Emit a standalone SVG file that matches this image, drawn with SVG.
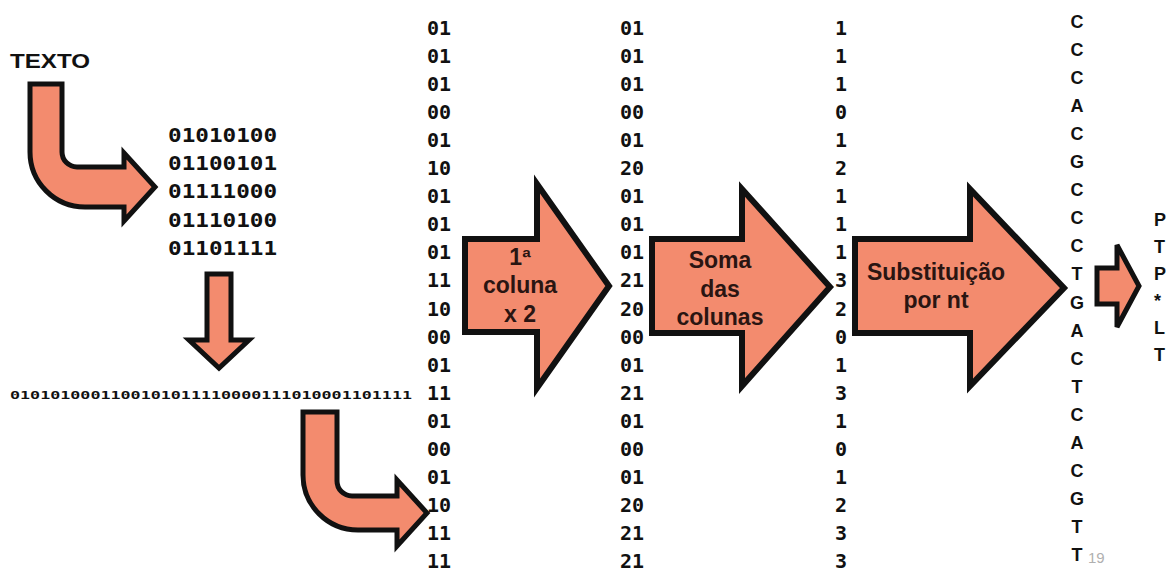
<svg xmlns="http://www.w3.org/2000/svg" width="1168" height="572" viewBox="0 0 1168 572">
<style>
.bg{fill:#ffffff}
.mono{font-family:"DejaVu Sans Mono","Liberation Mono",monospace;font-weight:bold;fill:#111111}
.col{font-size:20px}
.sans{font-family:"Liberation Sans",Arial,sans-serif;font-weight:bold;fill:#111111}
.lbl{font-family:"Liberation Sans",Arial,sans-serif;font-weight:bold;font-size:23px;fill:#2a1512;text-anchor:middle}
.arr{fill:#F38B6E;stroke:#111111;stroke-width:5;stroke-linejoin:miter}
.big{stroke-width:6}
.nt{font-size:18px;text-anchor:middle}
.pp{font-size:18px}
.pg{font-family:"Liberation Sans",Arial,sans-serif;font-size:15px;fill:#b0b0b0}
</style>
<rect class="bg" x="0" y="0" width="1168" height="572"/>

<g id="connectors">
  <path class="arr" d="M 30 84 L 62 84 L 62 152 A 15 15 0 0 0 77 167 L 124 167 L 124 153 L 155 187 L 124 221 L 124 207 L 85 207 A 55 55 0 0 1 30 152 Z"/>
  <path class="arr" d="M 207 274 L 231 274 L 231 340 L 249 340 L 219 368 L 189 340 L 207 340 Z"/>
  <path class="arr" d="M 303 412 L 337 412 L 337 481 A 15 15 0 0 0 352 496 L 397 496 L 397 480 L 427 513 L 397 546 L 397 530 L 358 530 A 55 55 0 0 1 303 475 Z"/>
</g>

<g id="texto">
  <text class="sans" x="10" y="68" font-size="21" textLength="80" lengthAdjust="spacingAndGlyphs">TEXTO</text>
</g>

<g id="bytes" class="mono col">
  <text x="168" y="142" textLength="109" lengthAdjust="spacingAndGlyphs">01010100</text>
  <text x="168" y="170" textLength="109" lengthAdjust="spacingAndGlyphs">01100101</text>
  <text x="168" y="198" textLength="109" lengthAdjust="spacingAndGlyphs">01111000</text>
  <text x="168" y="227" textLength="109" lengthAdjust="spacingAndGlyphs">01110100</text>
  <text x="168" y="255" textLength="109" lengthAdjust="spacingAndGlyphs">01101111</text>
</g>

<g id="bitstring">
  <text class="mono" x="10" y="399" font-size="11" textLength="402" lengthAdjust="spacingAndGlyphs">0101010001100101011110000111010001101111</text>
</g>

<g id="col-pairs" class="mono col">
  <text x="427" y="35">01</text><text x="427" y="63">01</text><text x="427" y="91">01</text><text x="427" y="119">00</text><text x="427" y="147">01</text>
  <text x="427" y="175">10</text><text x="427" y="203">01</text><text x="427" y="231">01</text><text x="427" y="259">01</text><text x="427" y="287">11</text>
  <text x="427" y="316">10</text><text x="427" y="344">00</text><text x="427" y="372">01</text><text x="427" y="400">11</text><text x="427" y="428">01</text>
  <text x="427" y="456">00</text><text x="427" y="484">01</text><text x="427" y="512">10</text><text x="427" y="540">11</text><text x="427" y="568">11</text>
</g>

<g id="col-doubled" class="mono col">
  <text x="620" y="35">01</text><text x="620" y="63">01</text><text x="620" y="91">01</text><text x="620" y="119">00</text><text x="620" y="147">01</text>
  <text x="620" y="175">20</text><text x="620" y="203">01</text><text x="620" y="231">01</text><text x="620" y="259">01</text><text x="620" y="287">21</text>
  <text x="620" y="316">20</text><text x="620" y="344">00</text><text x="620" y="372">01</text><text x="620" y="400">21</text><text x="620" y="428">01</text>
  <text x="620" y="456">00</text><text x="620" y="484">01</text><text x="620" y="512">20</text><text x="620" y="540">21</text><text x="620" y="568">21</text>
</g>

<g id="col-sum" class="mono col">
  <text x="835" y="35">1</text><text x="835" y="63">1</text><text x="835" y="91">1</text><text x="835" y="119">0</text><text x="835" y="147">1</text>
  <text x="835" y="175">2</text><text x="835" y="203">1</text><text x="835" y="231">1</text><text x="835" y="259">1</text><text x="835" y="287">3</text>
  <text x="835" y="316">2</text><text x="835" y="344">0</text><text x="835" y="372">1</text><text x="835" y="400">3</text><text x="835" y="428">1</text>
  <text x="835" y="456">0</text><text x="835" y="484">1</text><text x="835" y="512">2</text><text x="835" y="540">3</text><text x="835" y="568">3</text>
</g>

<g id="op-col2">
  <path class="arr big" d="M 465 239 L 537 239 L 537 184 L 609 286 L 537 388 L 537 332 L 465 332 Z"/>
  <text class="lbl" x="520" y="265">1ª</text>
  <text class="lbl" x="520" y="293">coluna</text>
  <text class="lbl" x="520" y="322">x 2</text>
</g>

<g id="op-sum">
  <path class="arr big" d="M 652 239 L 742 239 L 742 189 L 830 287 L 742 386 L 742 333 L 652 333 Z"/>
  <text class="lbl" x="720" y="268">Soma</text>
  <text class="lbl" x="720" y="297">das</text>
  <text class="lbl" x="720" y="325">colunas</text>
</g>

<g id="op-subst">
  <path class="arr big" d="M 855 239 L 970 239 L 970 189 L 1064 288 L 970 386 L 970 333 L 855 333 Z"/>
  <text class="lbl" x="936" y="280">Substituição</text>
  <text class="lbl" x="936" y="308">por nt</text>
</g>

<g id="op-translate">
  <path class="arr" d="M 1097 268 L 1117 268 L 1117 245 L 1139 286 L 1117 327 L 1117 304 L 1097 304 Z"/>
</g>

<g id="col-nt" class="sans nt">
  <text x="1077" y="28">C</text><text x="1077" y="56">C</text><text x="1077" y="84">C</text><text x="1077" y="112">A</text><text x="1077" y="140">C</text>
  <text x="1077" y="168">G</text><text x="1077" y="196">C</text><text x="1077" y="224">C</text><text x="1077" y="252">C</text><text x="1077" y="280">T</text>
  <text x="1077" y="309">G</text><text x="1077" y="337">A</text><text x="1077" y="365">C</text><text x="1077" y="393">T</text><text x="1077" y="421">C</text>
  <text x="1077" y="449">A</text><text x="1077" y="477">C</text><text x="1077" y="505">G</text><text x="1077" y="533">T</text><text x="1077" y="561">T</text>
</g>

<g id="protein" class="sans pp">
  <text x="1154" y="226">P</text>
  <text x="1154" y="253">T</text>
  <text x="1154" y="280">P</text>
  <text x="1154" y="307">*</text>
  <text x="1154" y="334">L</text>
  <text x="1154" y="361">T</text>
</g>

<g id="page">
  <text class="pg" x="1088" y="563">19</text>
</g>
</svg>
